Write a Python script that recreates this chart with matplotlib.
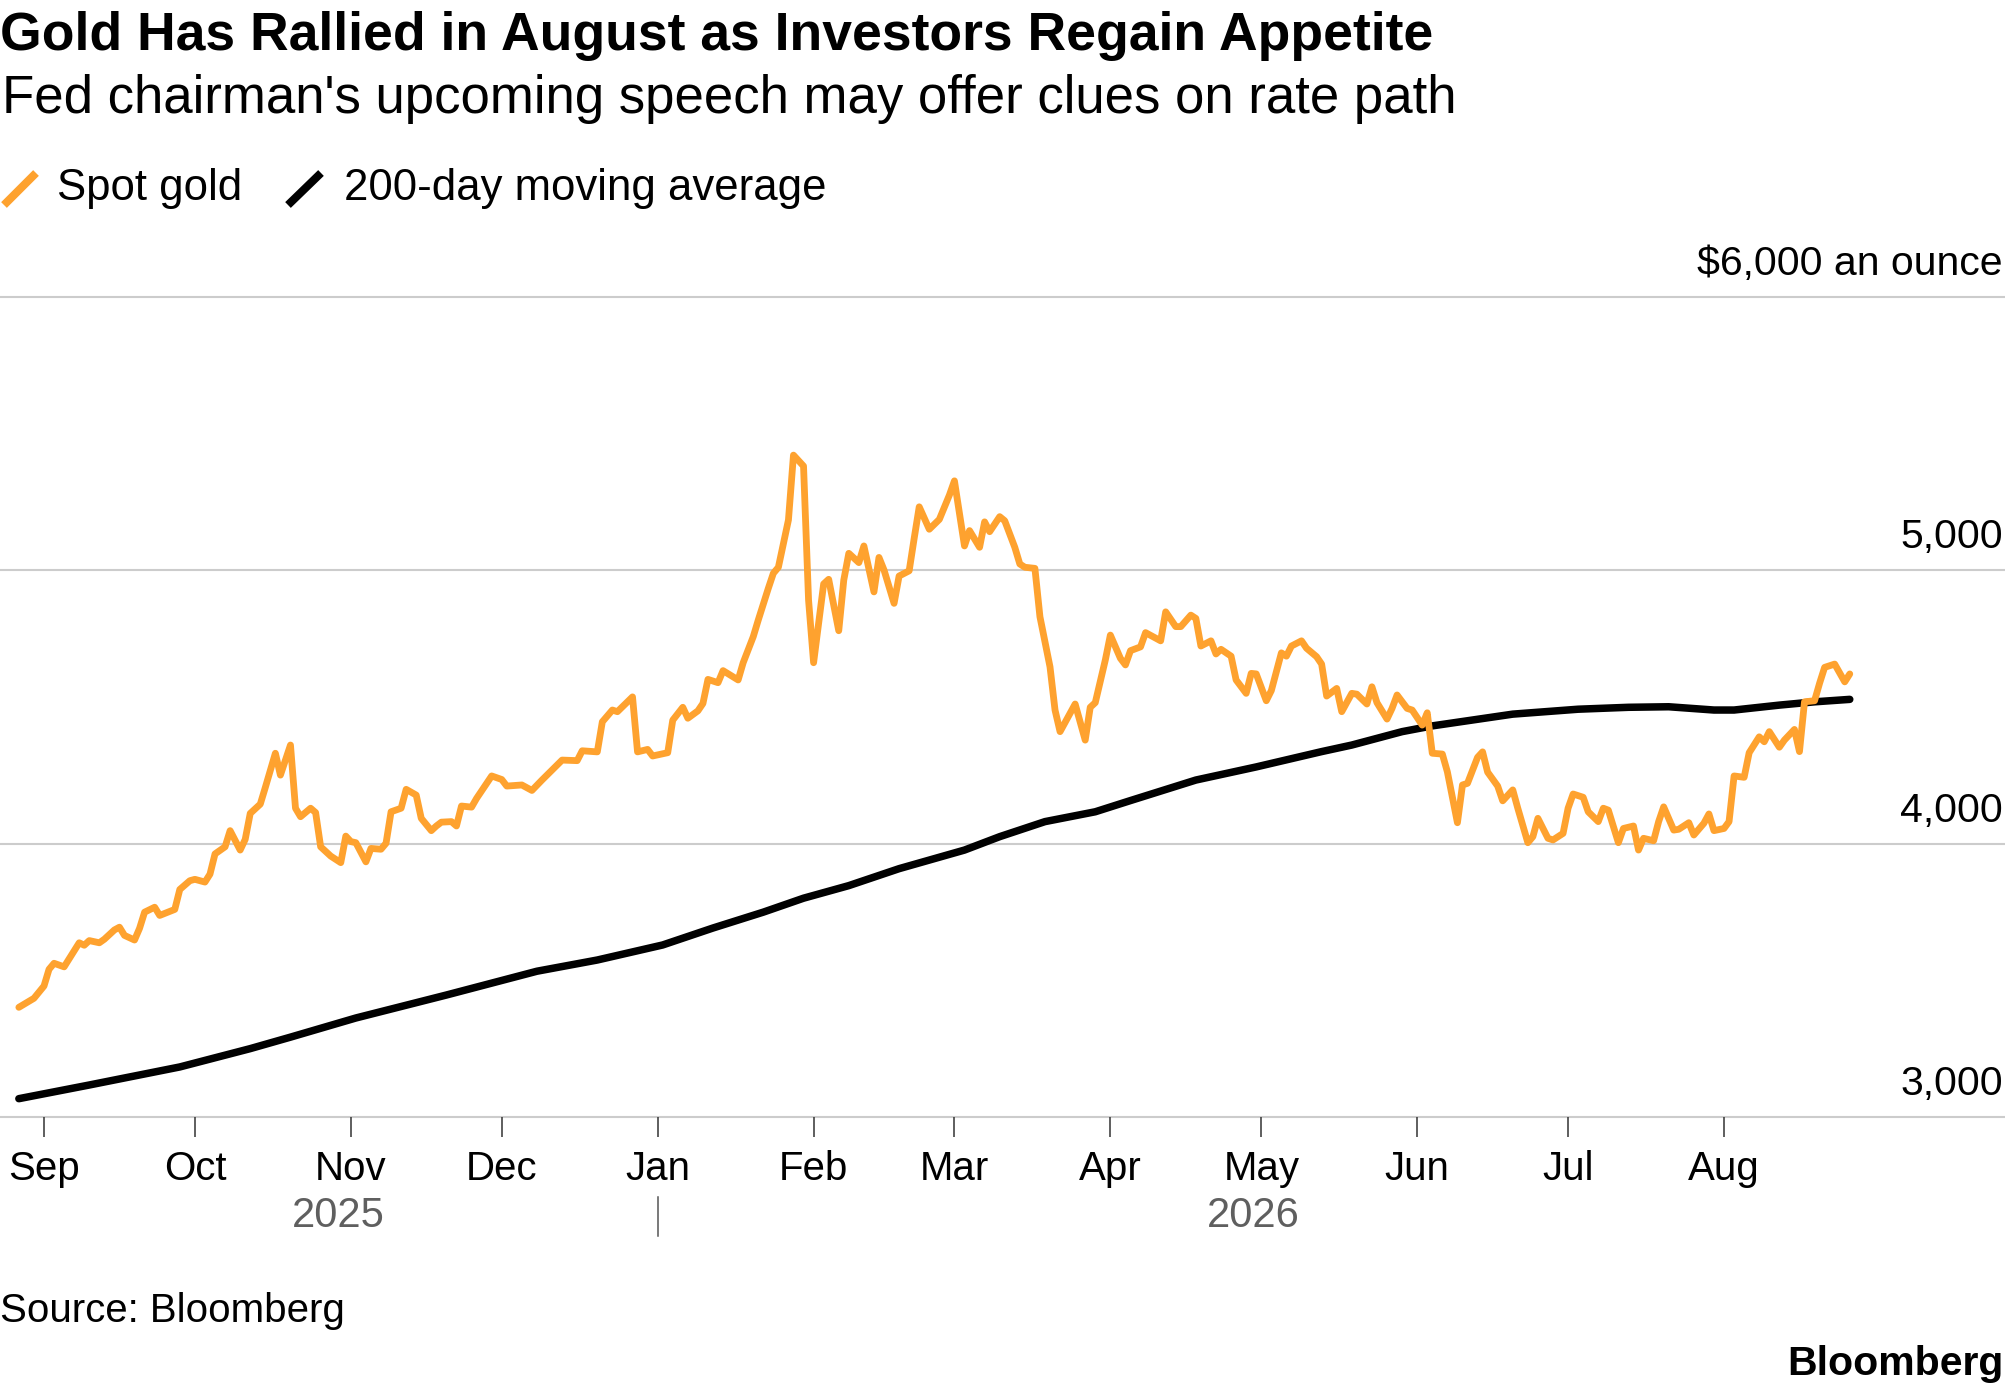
import matplotlib
matplotlib.use('Agg')
import matplotlib.pyplot as plt
import matplotlib.dates as mdates
import matplotlib.transforms as mtransforms
from matplotlib.lines import Line2D
import pandas as pd

plt.rcParams['font.family'] = ['Liberation Sans', 'DejaVu Sans']

# spot gold
spot_dates = [
    '2025-08-27', '2025-08-30', '2025-09-01', '2025-09-02', '2025-09-03', '2025-09-05', '2025-09-08',
    '2025-09-09', '2025-09-10', '2025-09-12', '2025-09-13', '2025-09-15', '2025-09-16', '2025-09-17',
    '2025-09-19', '2025-09-20', '2025-09-21', '2025-09-23', '2025-09-24', '2025-09-27', '2025-09-28',
    '2025-09-30', '2025-10-01', '2025-10-03', '2025-10-04', '2025-10-05', '2025-10-07', '2025-10-08',
    '2025-10-10', '2025-10-11', '2025-10-12', '2025-10-14', '2025-10-15', '2025-10-17', '2025-10-18',
    '2025-10-20', '2025-10-21', '2025-10-22', '2025-10-24', '2025-10-25', '2025-10-26', '2025-10-28',
    '2025-10-30', '2025-10-31', '2025-11-01', '2025-11-02', '2025-11-04', '2025-11-05', '2025-11-07',
    '2025-11-08', '2025-11-09', '2025-11-11', '2025-11-12', '2025-11-14', '2025-11-15', '2025-11-17',
    '2025-11-18', '2025-11-19', '2025-11-21', '2025-11-22', '2025-11-23', '2025-11-25', '2025-11-26',
    '2025-11-29', '2025-12-01', '2025-12-02', '2025-12-05', '2025-12-07', '2025-12-09', '2025-12-12',
    '2025-12-13', '2025-12-16', '2025-12-17', '2025-12-20', '2025-12-21', '2025-12-23', '2025-12-24',
    '2025-12-27', '2025-12-28', '2025-12-30', '2025-12-31', '2026-01-03', '2026-01-04', '2026-01-06',
    '2026-01-07', '2026-01-09', '2026-01-10', '2026-01-11', '2026-01-13', '2026-01-14', '2026-01-17',
    '2026-01-18', '2026-01-20', '2026-01-21', '2026-01-23', '2026-01-24', '2026-01-25', '2026-01-27',
    '2026-01-28', '2026-01-30', '2026-01-31', '2026-02-01', '2026-02-03', '2026-02-04', '2026-02-06',
    '2026-02-07', '2026-02-08', '2026-02-10', '2026-02-11', '2026-02-13', '2026-02-14', '2026-02-15',
    '2026-02-17', '2026-02-18', '2026-02-20', '2026-02-21', '2026-02-22', '2026-02-24', '2026-02-26',
    '2026-02-28', '2026-03-01', '2026-03-03', '2026-03-04', '2026-03-06', '2026-03-07', '2026-03-08',
    '2026-03-10', '2026-03-11', '2026-03-13', '2026-03-14', '2026-03-15', '2026-03-17', '2026-03-18',
    '2026-03-20', '2026-03-21', '2026-03-22', '2026-03-24', '2026-03-25', '2026-03-27', '2026-03-28',
    '2026-03-29', '2026-03-31', '2026-04-01', '2026-04-03', '2026-04-04', '2026-04-05', '2026-04-07',
    '2026-04-08', '2026-04-11', '2026-04-12', '2026-04-14', '2026-04-15', '2026-04-17', '2026-04-18',
    '2026-04-19', '2026-04-21', '2026-04-22', '2026-04-23', '2026-04-25', '2026-04-26', '2026-04-28',
    '2026-04-29', '2026-04-30', '2026-05-02', '2026-05-03', '2026-05-05', '2026-05-06', '2026-05-07',
    '2026-05-09', '2026-05-10', '2026-05-12', '2026-05-13', '2026-05-14', '2026-05-16', '2026-05-17',
    '2026-05-19', '2026-05-20', '2026-05-22', '2026-05-23', '2026-05-24', '2026-05-26', '2026-05-27',
    '2026-05-28', '2026-05-30', '2026-05-31', '2026-06-02', '2026-06-03', '2026-06-04', '2026-06-06',
    '2026-06-07', '2026-06-09', '2026-06-10', '2026-06-11', '2026-06-13', '2026-06-14', '2026-06-15',
    '2026-06-17', '2026-06-18', '2026-06-20', '2026-06-21', '2026-06-23', '2026-06-24', '2026-06-25',
    '2026-06-27', '2026-06-28', '2026-06-30', '2026-07-01', '2026-07-02', '2026-07-04', '2026-07-05',
    '2026-07-07', '2026-07-08', '2026-07-09', '2026-07-11', '2026-07-12', '2026-07-14', '2026-07-15',
    '2026-07-16', '2026-07-18', '2026-07-19', '2026-07-20', '2026-07-22', '2026-07-23', '2026-07-25',
    '2026-07-26', '2026-07-28', '2026-07-29', '2026-07-30', '2026-08-01', '2026-08-02', '2026-08-03',
    '2026-08-05', '2026-08-06', '2026-08-08', '2026-08-09', '2026-08-10', '2026-08-12', '2026-08-13',
    '2026-08-15', '2026-08-16', '2026-08-17', '2026-08-19', '2026-08-20', '2026-08-21', '2026-08-23',
    '2026-08-25', '2026-08-26',
]
spot_price = [
    3401, 3434, 3479, 3540, 3562, 3549, 3637,
    3628, 3645, 3637, 3650, 3684, 3694, 3664,
    3647, 3690, 3749, 3767, 3737, 3759, 3832,
    3864, 3869, 3859, 3888, 3962, 3988, 4047,
    3976, 4015, 4110, 4144, 4205, 4330, 4250,
    4360, 4129, 4098, 4129, 4113, 3988, 3954,
    3930, 4027, 4007, 4003, 3933, 3982, 3979,
    4001, 4116, 4129, 4198, 4177, 4092, 4047,
    4064, 4078, 4080, 4064, 4137, 4133, 4165,
    4247, 4234, 4210, 4214, 4194, 4232, 4287,
    4305, 4303, 4339, 4335, 4445, 4488, 4482,
    4536, 4335, 4344, 4320, 4332, 4451, 4498,
    4458, 4485, 4512, 4600, 4588, 4632, 4598,
    4661, 4756, 4817, 4933, 4988, 5010, 5183,
    5420, 5380, 4890, 4661, 4949, 4966, 4778,
    4963, 5061, 5027, 5088, 4920, 5046, 5000,
    4878, 4978, 4997, 5116, 5231, 5149, 5185,
    5274, 5326, 5088, 5144, 5083, 5176, 5140,
    5195, 5180, 5083, 5022, 5010, 5006, 4829,
    4646, 4488, 4409, 4476, 4510, 4378, 4498,
    4515, 4671, 4762, 4677, 4653, 4705, 4719,
    4771, 4741, 4847, 4793, 4793, 4835, 4823,
    4722, 4741, 4693, 4710, 4685, 4598, 4549,
    4622, 4620, 4522, 4559, 4697, 4685, 4722,
    4741, 4714, 4683, 4656, 4539, 4567, 4482,
    4549, 4546, 4510, 4573, 4515, 4455, 4494,
    4543, 4494, 4488, 4433, 4478, 4330, 4327,
    4262, 4076, 4214, 4220, 4315, 4335, 4261,
    4210, 4156, 4196, 4129, 4003, 4025, 4092,
    4019, 4013, 4037, 4129, 4181, 4169, 4116,
    4080, 4129, 4122, 4003, 4055, 4064, 3976,
    4019, 4010, 4080, 4134, 4049, 4052, 4076,
    4031, 4074, 4108, 4047, 4055, 4080, 4247,
    4242, 4332, 4390, 4372, 4409, 4352, 4378,
    4417, 4336, 4518, 4522, 4586, 4644, 4656,
    4591, 4620,
]

# 200-day moving average
ma_dates = [
    '2025-08-27', '2025-09-10', '2025-09-28', '2025-10-12', '2025-10-20', '2025-11-02',
    '2025-11-20', '2025-12-08', '2025-12-20', '2026-01-02', '2026-01-12', '2026-01-22',
    '2026-01-30', '2026-02-08', '2026-02-18', '2026-03-03', '2026-03-10', '2026-03-19',
    '2026-03-29', '2026-04-05', '2026-04-18', '2026-04-30', '2026-05-13', '2026-05-19',
    '2026-05-29', '2026-06-04', '2026-06-20', '2026-07-03', '2026-07-13', '2026-07-21',
    '2026-07-30', '2026-08-03', '2026-08-12', '2026-08-19', '2026-08-26',
]
ma_price = [
    3067, 3117, 3183, 3250, 3292, 3362,
    3446, 3533, 3574, 3629, 3691, 3749,
    3800, 3846, 3908, 3976, 4025, 4080,
    4116, 4157, 4232, 4280, 4336, 4360,
    4409, 4430, 4473, 4491, 4498, 4500,
    4488, 4488, 4506, 4518, 4527,
]

y_ticks = [3000, 4000, 5000, 6000]
y_labels = ['3,000', '4,000', '5,000', '$6,000 an ounce']
month_ticks = pd.date_range('2025-09-01', '2026-08-01', freq='MS')
years = ['2025', '2026']

GOLD = '#fea22f'
GRID = '#cccccc'
W, H = 2005, 1392

spot_x = pd.to_datetime(spot_dates)
ma_x = pd.to_datetime(ma_dates)

fig = plt.figure(figsize=(W / 100, H / 100), dpi=100)
ax = fig.add_axes([0, 1 - 1117 / H, 1, (1117 - 296.5) / H])

sep1 = mdates.date2num(pd.Timestamp('2025-09-01'))
ax.set_xlim(sep1 - 44 / 5.03, sep1 + (W - 44) / 5.03)
ax.set_ylim(3000, 6000)

for v in y_ticks:
    ax.axhline(v, color=GRID, lw=1.5, zorder=0, clip_on=False)
for v, lab in zip(y_ticks, y_labels):
    ax.annotate(lab, xy=(1, v), xycoords=('axes fraction', 'data'),
                xytext=(-1.5, 15.5), textcoords='offset points',
                ha='right', va='baseline', fontsize=29.5, color='black')

ax.plot(ma_x, ma_price, color='black', lw=5.4, solid_joinstyle='round',
        solid_capstyle='round', zorder=3)
ax.plot(spot_x, spot_price, color=GOLD, lw=4.9, solid_joinstyle='round',
        solid_capstyle='round', zorder=4)

for s in ax.spines.values():
    s.set_visible(False)
ax.set_yticks([])
ax.set_xticks(month_ticks)
ax.xaxis.set_major_formatter(mdates.DateFormatter('%b'))
ax.tick_params(axis='x', length=14.4, width=1.1, color='#333333', pad=9,
               labelsize=29, labelcolor='black')

# year labels under the months
trans = mtransforms.blended_transform_factory(ax.transData, fig.transFigure)
jan1 = mdates.date2num(pd.Timestamp('2026-01-01'))
first = mdates.date2num(spot_x[0])
last = mdates.date2num(spot_x[-1])
ax.text((first + jan1) / 2, 1 - 1227 / H, years[0], transform=trans,
        ha='center', va='baseline', fontsize=30, color='#5f5f5f')
ax.text((jan1 + last) / 2, 1 - 1227 / H, years[1], transform=trans,
        ha='center', va='baseline', fontsize=30, color='#5f5f5f')
fig.add_artist(Line2D([jan1, jan1], [1 - 1197 / H, 1 - 1236 / H], transform=trans,
                      color='#555555', lw=1.1))

# title block
fig.text(0.0, 1 - 50 / H, 'Gold Has Rallied in August as Investors Regain Appetite',
         fontsize=38.5, fontweight='bold', ha='left', va='baseline')
fig.text(0.001, 1 - 113 / H, "Fed chairman's upcoming speech may offer clues on rate path",
         fontsize=38, ha='left', va='baseline')

# legend
fig.add_artist(Line2D([4 / W, 36 / W], [1 - 205 / H, 1 - 173 / H], transform=fig.transFigure,
                      color=GOLD, lw=5.8, solid_capstyle='butt'))
fig.text(57 / W, 1 - 200 / H, 'Spot gold', fontsize=31.5, ha='left', va='baseline')
fig.add_artist(Line2D([288 / W, 321 / W], [1 - 205 / H, 1 - 173 / H], transform=fig.transFigure,
                      color='black', lw=5.8, solid_capstyle='butt'))
fig.text(344 / W, 1 - 200 / H, '200-day moving average', fontsize=31.5, ha='left', va='baseline')

# footer
fig.text(0.0, 1 - 1322 / H, 'Source: Bloomberg', fontsize=29, ha='left', va='baseline')
fig.text(1 - 2 / W, 1 - 1375 / H, 'Bloomberg', fontsize=29.5, fontweight='bold',
         ha='right', va='baseline')

fig.savefig('out.png', dpi=100)
